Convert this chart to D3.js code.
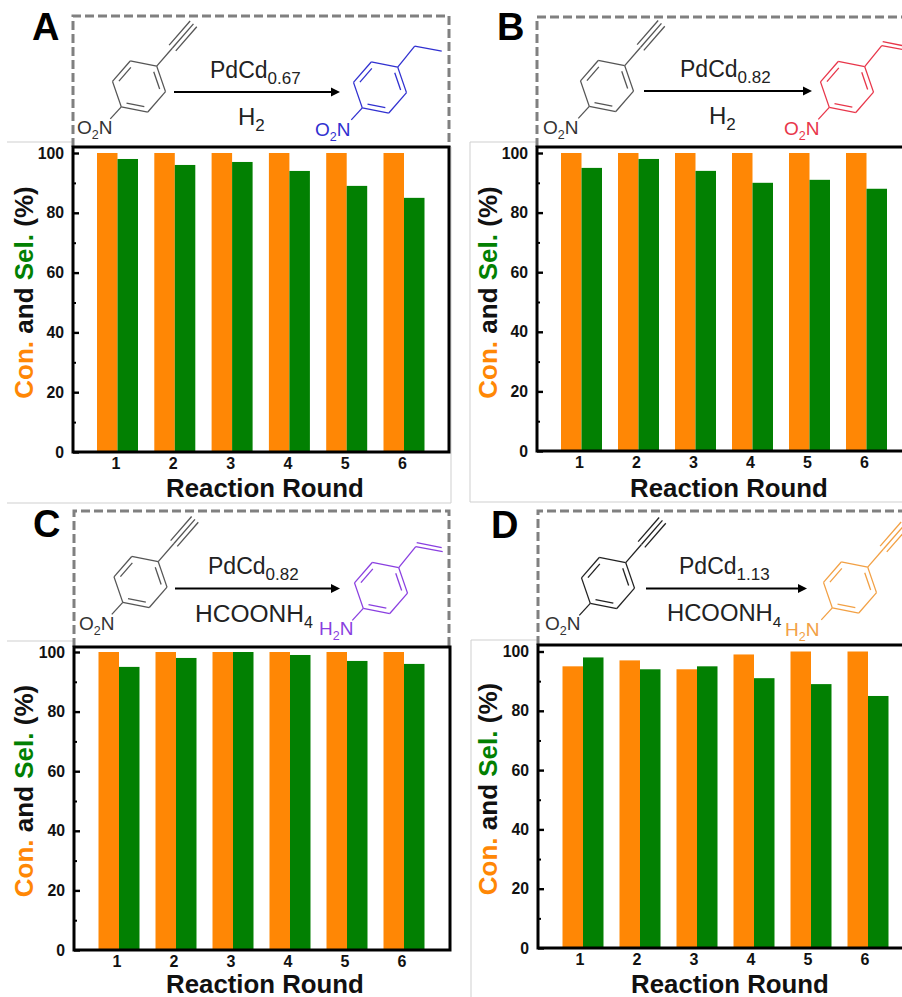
<!DOCTYPE html>
<html><head><meta charset="utf-8">
<script src="https://cdn.jsdelivr.net/npm/d3@7/dist/d3.min.js"></script>
<style>html,body{margin:0;padding:0;background:#fff}svg{display:block}text{font-family:"Liberation Sans",Arial,sans-serif}</style>
</head><body><svg id="c" width="902" height="997"></svg>
<script>
// ---- data
const rounds = ["1","2","3","4","5","6"];
const seriesNames = ["Con.","Sel."];
const conA = [100,100,100,100,100,100];
const selA = [98,96,97,94,89,85];
const conB = [100,100,100,100,100,100];
const selB = [95,98,94,90,91,88];
const conC = [100,100,100,100,100,100];
const selC = [95,98,100,99,97,96];
const conD = [95,97,94,99,100,100];
const selD = [98,94,95,91,89,85];
const yTicks = [0,20,40,60,80,100];
const yMinorTicks = [10,30,50,70,90];
const catalysts = ["0.67","0.82","0.82","1.13"];
const reagents = [["H","2"],["H","2"],["HCOONH","4"],["HCOONH","4"]];

const ORANGE="#ff8705", GREEN="#028002";
const svg=d3.select("#c");

// layout of each panel
const panels=[
 {L:"A",con:conA,sel:selA,left:73,right:449,top:147,y100:153,y0:452,c0:117.5,step:57.3,tickDx:-1.5,
  lx:32,ly:40,boxTop:16,boxRight:449,cat:[210,78],reag:[238,125],reagSize:24,reagSub:17,arrow:[174,340,92],
  r1:[139,86.5,"#555"],r1lab:[77,134],r2:[380,87.5,"#3030d0"],r2lab:[315,136],tail:"ethyl",lab2:"O",
  xt:[265,497],ytx:33,ytc:292.5,
  sep:[[7,142,73,142],[7,503,451,503],[451,147,451,503]]},
 {L:"B",con:conB,sel:selB,left:537,right:910,top:147,y100:153,y0:451,c0:581.5,step:57,tickDx:-2,
  lx:497,ly:40,boxTop:17,boxRight:910,cat:[680,77],reag:[709,124],reagSize:24,reagSub:17,arrow:[644,812,91],
  r1:[607,86,"#555"],r1lab:[543,134],r2:[847,87,"#e8364a"],r2lab:[784,135],tail:"vinyl",lab2:"O",
  xt:[729,497],ytx:497,ytc:292.5,
  sep:[[470,142,537,142],[470,142,470,502],[470,502,902,502]]},
 {L:"C",con:conC,sel:selC,left:74,right:450,top:647,y100:652,y0:950,c0:119,step:57,tickDx:-2,
  lx:33,ly:537,boxTop:511,boxRight:449,cat:[208,574],reag:[195,622],reagSize:24.5,reagSub:16,arrow:[175,340,588.5],
  r1:[140.5,582,"#555"],r1lab:[79,630],r2:[381,588,"#8a3fe0"],r2lab:[319,635],tail:"vinyl",lab2:"N",
  xt:[265,993],ytx:33,ytc:791,
  sep:[[7,641,73,641]]},
 {L:"D",con:conD,sel:selD,left:538,right:910,top:645,y100:651.5,y0:948,c0:583,step:57,tickDx:-3,
  lx:491,ly:538,boxTop:511,boxRight:910,cat:[679,574],reag:[667,621],reagSize:23.8,reagSub:15.5,arrow:[646,807,588.5],
  r1:[608,583,"#222"],r1lab:[545,630],r2:[850,587.5,"#f2a044"],r2lab:[785,636],tail:"triple",lab2:"N",
  xt:[730,993],ytx:497,ytc:789,
  sep:[[471,640,538,640],[471,640,471,997]]}
];

function sub(g,x,y,parts,size,subSize,color){
  const t=g.append("text").attr("x",x).attr("y",y).attr("font-size",size).attr("fill",color);
  parts.forEach((p,i)=>{
    const s=t.append("tspan").text(p);
    if(i%2===1){s.attr("font-size",subSize).attr("dy",size*0.24);}
    else if(i>0){s.attr("dy",-size*0.24);}
  });
  return t;
}

function molecule(g,cx,cy,color,tail){
  const R=27, a0=-49*Math.PI/180;
  const v=d3.range(6).map(k=>[cx+R*Math.cos(a0+k*Math.PI/3),cy+R*Math.sin(a0+k*Math.PI/3)]);
  const line=(a,b,w)=>g.append("line").attr("x1",a[0]).attr("y1",a[1]).attr("x2",b[0]).attr("y2",b[1]).attr("stroke",color).attr("stroke-width",w||1.3);
  v.forEach((p,i)=>line(p,v[(i+1)%6]));
  // inner double bonds
  [0,2,4].forEach(i=>{
    const a=v[i],b=v[(i+1)%6],f=0.8;
    const ia=[cx+(a[0]-cx)*f,cy+(a[1]-cy)*f],ib=[cx+(b[0]-cx)*f,cy+(b[1]-cy)*f];
    const m=t=>[ia[0]+(ib[0]-ia[0])*t,ia[1]+(ib[1]-ia[1])*t];
    line(m(0.08),m(0.92));
  });
  // bond toward the nitro / amino label
  const n=v[3];
  line(n,[n[0]-11,n[1]+12]);
  const tip=v[0], ux=Math.cos(a0), uy=Math.sin(a0);
  if(tail==="triple"){
    const a=[tip[0]+ux*24,tip[1]+uy*24], e=[tip[0]+ux*56,tip[1]+uy*56];
    const px=-uy*4.4, py=ux*4.4;
    line(tip,a);
    line(a,e);
    line([a[0]+px,a[1]+py],[e[0]+px,e[1]+py]);
    line([a[0]-px,a[1]-py],[e[0]-px,e[1]-py]);
  } else if(tail==="ethyl"){
    const b=[tip[0]+17,tip[1]-21];
    line(tip,b); line(b,[b[0]+27,b[1]+5]);
  } else {
    const b=[tip[0]+17,tip[1]-21];
    line(tip,b); line(b,[b[0]+27,b[1]+5]);
    line([b[0]+1,b[1]-4],[b[0]+26,b[1]+1]);
  }
}

panels.forEach((p,pi)=>{
  const g=svg.append("g");
  // faint figure separators
  p.sep.forEach(s=>g.append("line").attr("x1",s[0]).attr("y1",s[1]).attr("x2",s[2]).attr("y2",s[3]).attr("stroke","#cfcfcf").attr("stroke-width",1));
  // dashed reaction box
  g.append("path").attr("d",`M${p.left},${p.top} V${p.boxTop} H${p.boxRight} V${p.top}`)
    .attr("fill","none").attr("stroke","#808080").attr("stroke-width",3).attr("stroke-dasharray","9 4");
  // scales
  const x=d3.scaleBand().domain(rounds).range([p.c0-p.step/2,p.c0+p.step*5.5]);
  const s=d3.scaleBand().domain(seriesNames).range([x.bandwidth()/2-20.5,x.bandwidth()/2+20.5]);
  const y=d3.scaleLinear().domain([0,100]).range([p.y0,p.y100]);
  // bars
  [[seriesNames[0],p.con,ORANGE],[seriesNames[1],p.sel,GREEN]].forEach(([n,vals,col])=>{
    g.append("g").selectAll("rect").data(vals).join("rect")
      .attr("x",(d,i)=>x(rounds[i])+s(n)).attr("width",s.bandwidth())
      .attr("y",d=>y(d)).attr("height",d=>y(0)-y(d)).attr("fill",col);
  });
  // frame
  g.append("rect").attr("x",p.left).attr("y",p.top).attr("width",p.right-p.left).attr("height",p.y0-p.top)
    .attr("fill","none").attr("stroke","#000").attr("stroke-width",3);
  // y axis
  const ya=g.append("g").attr("transform",`translate(${p.left},0)`)
    .call(d3.axisLeft(y).tickValues(yTicks).tickSize(-6).tickPadding(9).tickFormat(d3.format("d")));
  ya.select(".domain").remove();
  ya.selectAll("line").attr("stroke","#000").attr("stroke-width",2.4);
  ya.selectAll("text").attr("font-size",15.8).attr("font-weight","bold").attr("fill","#111").attr("font-family",'"Liberation Sans",Arial,sans-serif');
  const ym=g.append("g").attr("transform",`translate(${p.left},0)`)
    .call(d3.axisLeft(y).tickValues(yMinorTicks).tickSize(-3).tickFormat(""));
  ym.select(".domain").remove();
  ym.selectAll("line").attr("stroke","#000").attr("stroke-width",2);
  // x axis labels
  const xa=g.append("g").attr("transform",`translate(${p.tickDx},${p.y0})`)
    .call(d3.axisBottom(x).tickSize(0).tickPadding(6));
  xa.select(".domain").remove();
  xa.selectAll("text").attr("font-size",16).attr("font-weight","bold").attr("fill","#111").attr("font-family",'"Liberation Sans",Arial,sans-serif');
  // axis titles
  g.append("text").attr("x",p.xt[0]).attr("y",p.xt[1]).attr("text-anchor","middle").attr("font-size",25.8).attr("font-weight","bold").attr("fill","#111").text("Reaction Round");
  const yt=g.append("text").attr("transform",`translate(${p.ytx},${p.ytc}) rotate(-90)`).attr("text-anchor","middle").attr("font-size",26).attr("font-weight","bold");
  yt.append("tspan").attr("fill",ORANGE).text("Con.");
  yt.append("tspan").attr("fill","#111").text(" and ");
  yt.append("tspan").attr("fill",GREEN).text("Sel.");
  yt.append("tspan").attr("fill","#111").text(" (%)");
  // panel letter
  g.append("text").attr("x",p.lx).attr("y",p.ly).attr("font-size",38).attr("font-weight","bold").attr("fill","#000").text(p.L);
  // reaction
  molecule(g,p.r1[0],p.r1[1],p.r1[2],"triple");
  sub(g,p.r1lab[0],p.r1lab[1],["O","2","N"],19,12.5,"#333");
  molecule(g,p.r2[0],p.r2[1],p.r2[2],p.tail);
  sub(g,p.r2lab[0],p.r2lab[1],p.lab2==="O"?["O","2","N"]:["H","2","N"],19,12.5,p.r2[2]);
  sub(g,p.cat[0],p.cat[1],["PdCd",catalysts[pi]],23,17,"#222");
  sub(g,p.reag[0],p.reag[1],reagents[pi],p.reagSize,p.reagSub,"#222");
  const [ax0,ax1,ay]=p.arrow;
  g.append("line").attr("x1",ax0).attr("x2",ax1-8).attr("y1",ay).attr("y2",ay).attr("stroke","#000").attr("stroke-width",2);
  g.append("path").attr("d",`M${ax1},${ay} l-9,-4.5 v9 z`).attr("fill","#000");
});
</script></body></html>
